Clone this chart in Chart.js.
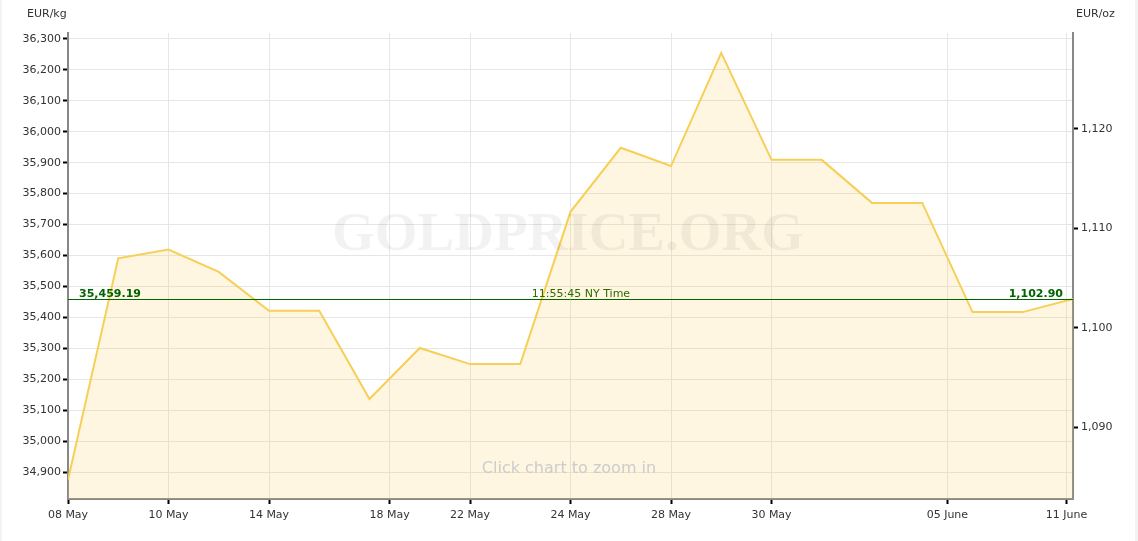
<!DOCTYPE html>
<html>
<head>
<meta charset="utf-8">
<title>Gold price EUR</title>
<script src="https://cdn.jsdelivr.net/npm/chart.js@4"></script>
<style>
body{margin:0;background:#fff;}
#wrap{width:1138px;height:541px;position:relative;}
</style>
</head>
<body>
<div id="wrap"><canvas id="goldChart" width="1138" height="541"></canvas></div>
<script>
// daily points, evenly spaced (ordinal axis)
const prices=[34875,35591,35619,35547,35421,35421,35136,35301,35249,35249,35741,35948,35889,36255,35909,35909,35770,35770,35417,35417,35459.19];
const xTickPos=[0,2,4,6.4,8,10,12,14,17.5,19.87];
const xTickLabels=["08 May","10 May","14 May","18 May","22 May","24 May","28 May","30 May","05 June","11 June"];
const kgTicks=[34900,35000,35100,35200,35300,35400,35500,35600,35700,35800,35900,36000,36100,36200,36300];
const ozTicks=[1090,1100,1110,1120];
const kgMin=34813, kgMax=36319;
const ozPerKg=32.1507466;
const currentPrice=35459.19;
const currentTime="11:55:45 NY Time";

const font="'DejaVu Sans', Verdana, sans-serif";
const fmt=v=>v.toLocaleString("en-US");

const overlay={
    id:"overlay",
    beforeDraw(c){
        const g=c.ctx;
        g.save();
        g.fillStyle="#fff";
        g.fillRect(0,0,c.width,c.height);
        g.fillStyle="#f3f3f3";
        g.fillRect(0,0,2,c.height);
        g.fillRect(c.width-3,0,3,c.height);
        g.restore();
    },
    afterDatasetsDraw(c){
        const g=c.ctx, a=c.chartArea;
        g.save();
        // watermark
        g.fillStyle="rgba(0,0,0,0.05)";
        g.font="bold 55px 'Liberation Serif', serif";
        g.textAlign="center";g.textBaseline="middle";
        g.fillText("GOLDPRICE.ORG",568,236);
        g.fillStyle="#cccccc";
        g.font="16px "+font;
        g.fillText("Click chart to zoom in",569,469);
        // current price line
        const y=Math.round(c.scales.y.getPixelForValue(currentPrice))+0.5;
        g.strokeStyle="#006400";g.lineWidth=1;
        g.beginPath();g.moveTo(a.left,y);g.lineTo(a.right,y);g.stroke();
        g.textBaseline="alphabetic";
        g.fillStyle="#006400";
        g.font="bold 11px "+font;
        g.textAlign="left";
        g.fillText(fmt(currentPrice),79,y-3);
        g.textAlign="right";
        g.fillText((currentPrice/ozPerKg).toLocaleString("en-US",{minimumFractionDigits:2,maximumFractionDigits:2}),1063,y-3);
        g.font="11px "+font;
        g.fillStyle="#2f6a00";
        g.textAlign="center";
        g.fillText(currentTime,581,y-3);
        // axis titles
        g.fillStyle="#333";
        g.textBaseline="middle";
        g.textAlign="left";
        g.fillText("EUR/kg",27,14);
        g.fillText("EUR/oz",1076,14);
        g.restore();
    }
};

new Chart(document.getElementById("goldChart"),{
    type:"line",
    data:{
        datasets:[{
            data:prices.map((p,i)=>({x:i,y:p})),
            borderColor:"rgb(246,207,87)",
            backgroundColor:"rgba(247,207,87,0.18)",
            borderWidth:2,
            fill:"start",
            pointRadius:0,
            tension:0
        }]
    },
    options:{
        responsive:false,
        animation:false,
        layout:{padding:{top:33}},
        plugins:{legend:{display:false},tooltip:{enabled:false}},
        scales:{
            x:{
                type:"linear",min:0,max:20,
                afterBuildTicks(s){s.ticks=xTickPos.map(v=>({value:v}));},
                afterFit(s){s.height=42;},
                grid:{color:"#e6e6e6",tickColor:"#000",tickLength:5,tickWidth:2},
                border:{color:"#888",width:2},
                ticks:{autoSkip:false,maxRotation:0,padding:5,color:"#333",font:{family:font,size:11},
                    callback:(v,i)=>xTickLabels[i]}
            },
            y:{
                position:"left",min:kgMin,max:kgMax,
                afterBuildTicks(s){s.ticks=kgTicks.map(v=>({value:v}));},
                afterFit(s){s.width=68;},
                grid:{color:"#e6e6e6",tickColor:"#000",tickLength:5,tickWidth:2},
                border:{color:"#888",width:2},
                ticks:{padding:2,color:"#333",font:{family:font,size:11},callback:v=>fmt(v)}
            },
            y2:{
                position:"right",min:kgMin/ozPerKg,max:kgMax/ozPerKg,
                afterBuildTicks(s){s.ticks=ozTicks.map(v=>({value:v}));},
                afterFit(s){s.width=65;},
                grid:{drawOnChartArea:false,tickColor:"#000",tickLength:5,tickWidth:2},
                border:{color:"#888",width:2},
                ticks:{padding:3,color:"#333",font:{family:font,size:11},callback:v=>fmt(v)}
            }
        }
    },
    plugins:[overlay]
});
</script>
</body>
</html>
